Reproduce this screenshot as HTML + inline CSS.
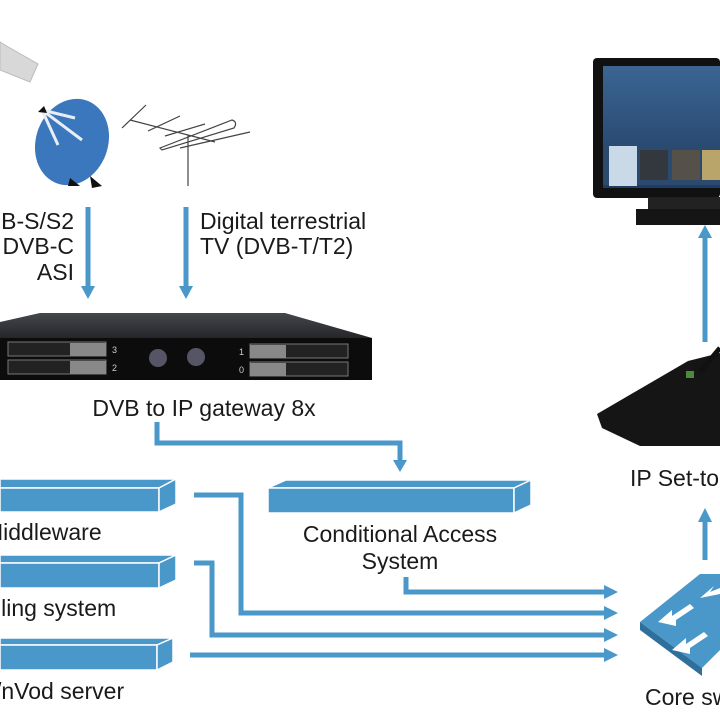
<!DOCTYPE html>
<html><head><meta charset="utf-8"><style>
html,body{margin:0;padding:0;background:#fff;}
svg{display:block;}
text{font-family:"Liberation Sans",Arial,sans-serif;fill:#1a1a1a;}
</style></head><body>
<svg width="720" height="720" viewBox="0 0 720 720" xmlns="http://www.w3.org/2000/svg">
<defs>
<linearGradient id="top" x1="0" y1="0" x2="0" y2="1"><stop offset="0" stop-color="#44474c"/><stop offset="1" stop-color="#25262a"/></linearGradient>
<linearGradient id="scr" x1="0" y1="0" x2="0" y2="1"><stop offset="0" stop-color="#3c6592"/><stop offset="1" stop-color="#1f3d63"/></linearGradient>
</defs>
<polygon points="0,42 10,48 38,64 30,82 0,70" fill="#d8d8d8" stroke="#bbb"/>
<ellipse cx="72" cy="142" rx="36" ry="44" fill="#3b77bd" transform="rotate(20 72 142)"/>
<line x1="42" y1="110" x2="75" y2="118" stroke="#e8eef5" stroke-width="3"/>
<line x1="42" y1="110" x2="82" y2="140" stroke="#e8eef5" stroke-width="3"/>
<line x1="42" y1="110" x2="58" y2="145" stroke="#e8eef5" stroke-width="3"/>
<polygon points="38,112 44,106 47,113" fill="#111"/>
<path d="M70 178 L80 186 L68 186 Z" fill="#111"/><path d="M90 176 L102 186 L92 188 Z" fill="#111"/>
<g stroke="#444" stroke-width="1.2" fill="none">
<line x1="130" y1="120" x2="215" y2="142"/>
<line x1="188" y1="135" x2="188" y2="186"/>
<line x1="122" y1="128" x2="146" y2="105"/>
<line x1="148" y1="131" x2="180" y2="116"/>
<line x1="165" y1="136" x2="205" y2="124"/>
<line x1="180" y1="148" x2="250" y2="132"/>
<path d="M160 148 L232 120 Q238 122 234 128 L162 150 Z"/>
</g>
<g font-size="23">
<text x="74" y="229" text-anchor="end">B-S/S2</text>
<text x="74" y="254" text-anchor="end">DVB-C</text>
<text x="74" y="280" text-anchor="end">ASI</text>
<text x="200" y="229">Digital terrestrial</text>
<text x="200" y="254">TV (DVB-T/T2)</text>
</g>
<g fill="#4a97c9" stroke="#4a97c9">
<line x1="88" y1="207" x2="88" y2="288" stroke-width="5"/>
<polygon points="81,286 95,286 88,299" stroke="none"/>
<line x1="186" y1="207" x2="186" y2="288" stroke-width="5"/>
<polygon points="179,286 193,286 186,299" stroke="none"/>
</g>
<polygon points="0,322 40,313 285,313 372,338 0,338" fill="url(#top)"/>
<rect x="0" y="338" width="372" height="42" fill="#0c0c0d"/>
<g fill="#222" stroke="#777" stroke-width="1">
<rect x="8" y="342" width="98" height="14"/><rect x="8" y="360" width="98" height="14"/>
<rect x="250" y="344" width="98" height="14"/><rect x="250" y="362" width="98" height="14"/>
</g>
<g fill="#888"><rect x="70" y="343" width="36" height="13"/><rect x="70" y="361" width="36" height="13"/>
<rect x="250" y="345" width="36" height="13"/><rect x="250" y="363" width="36" height="13"/></g>
<circle cx="158" cy="358" r="9" fill="#556"/><circle cx="196" cy="357" r="9" fill="#556"/>
<g font-size="9"><text x="112" y="353" style="fill:#ccc">3</text><text x="112" y="371" style="fill:#ccc">2</text><text x="239" y="355" style="fill:#ccc">1</text><text x="239" y="373" style="fill:#ccc">0</text></g>
<text x="204" y="416" font-size="23" text-anchor="middle">DVB to IP gateway 8x</text>
<rect x="593" y="58" width="127" height="140" rx="4" fill="#111"/>
<rect x="603" y="66" width="117" height="122" fill="url(#scr)"/>
<rect x="603" y="145" width="117" height="40" fill="#2b4a6e"/>
<rect x="609" y="146" width="28" height="40" fill="#c9d9e8"/>
<rect x="640" y="150" width="28" height="30" fill="#33383e"/>
<rect x="672" y="150" width="28" height="30" fill="#55504a"/>
<rect x="702" y="150" width="18" height="30" fill="#b9a56a"/>
<rect x="648" y="197" width="72" height="12" fill="#222"/>
<rect x="636" y="209" width="84" height="16" fill="#151515"/>
<polygon points="597,414 688,361 720,353 720,446 640,446 602,428" fill="#151515"/>
<line x1="700" y1="372" x2="720" y2="348" stroke="#111" stroke-width="5"/>
<rect x="686" y="371" width="8" height="7" fill="#4a8a3a"/>
<text x="630" y="486" font-size="23">IP Set-to</text>
<g fill="#4a97c9" stroke="#fff" stroke-width="1.5">
<polygon points="0,479 176,479 159,488 0,488"/><rect x="0" y="488" width="159" height="24"/><polygon points="159,488 176,479 176,504 159,512"/>
<polygon points="0,555 176,555 159,563 0,563"/><rect x="0" y="563" width="159" height="25"/><polygon points="159,563 176,555 176,580 159,588"/>
<polygon points="0,638 173,638 157,645 0,645"/><rect x="0" y="645" width="157" height="25"/><polygon points="157,645 173,638 173,662 157,670"/>
<polygon points="286,480 531,480 514,488 268,488"/><rect x="268" y="488" width="246" height="25"/><polygon points="514,488 531,480 531,505 514,513"/>
</g>
<g font-size="23">
<text x="-16" y="540">Middleware</text>
<text x="-4" y="616">lling system</text>
<text x="-5" y="699">/nVod server</text>
<text x="400" y="542" text-anchor="middle">Conditional Access</text>
<text x="400" y="569" text-anchor="middle">System</text>
<text x="645" y="705">Core sw</text>
</g>
<g fill="none" stroke="#4a97c9" stroke-width="5">
<polyline points="157,422 157,443 400,443 400,462"/>
<polyline points="194,495 241,495 241,613 606,613"/>
<polyline points="194,563 212,563 212,635 606,635"/>
<polyline points="190,655 606,655"/>
<polyline points="406,577 406,592 606,592"/>
<line x1="705" y1="560" x2="705" y2="520"/>
<line x1="705" y1="342" x2="705" y2="236"/>
</g>
<g fill="#4a97c9">
<polygon points="393,460 407,460 400,472"/>
<polygon points="604,585 618,592 604,599"/>
<polygon points="604,606 618,613 604,620"/>
<polygon points="604,628 618,635 604,642"/>
<polygon points="604,648 618,655 604,662"/>
<polygon points="698,522 712,522 705,508"/>
<polygon points="698,238 712,238 705,225"/>
<polygon points="640,622 700,574 720,574 720,650 702,668" fill="#4a97c9"/>
<polygon points="640,622 702,668 702,676 640,630" fill="#2f6f9c"/>
</g>
<g fill="#fff">
<polygon points="658,622 672,610 672,616 690,604 694,608 676,620 676,626"/>
<polygon points="672,650 686,638 686,644 704,632 708,636 690,648 690,654"/>
<polygon points="700,598 714,586 710,592 720,588 720,594"/>
</g>
</svg>
</body></html>
